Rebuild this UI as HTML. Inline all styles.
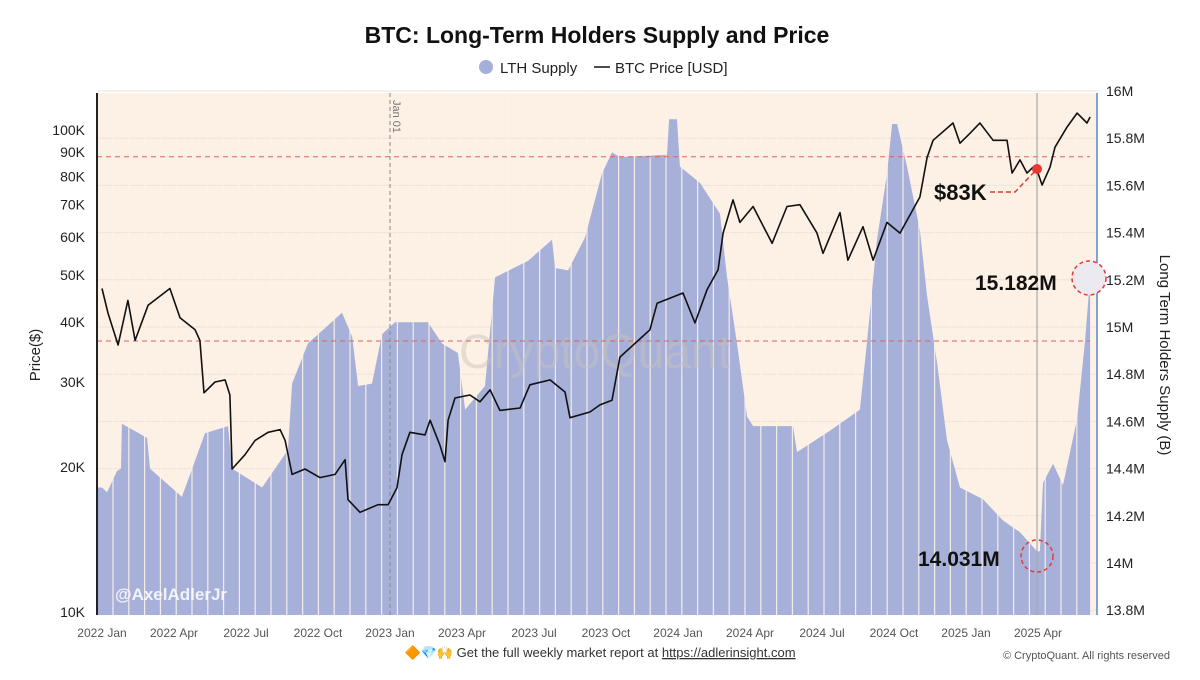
<!DOCTYPE html>
<html><head><meta charset="utf-8"><style>
body{margin:0;background:#fff;font-family:"Liberation Sans",sans-serif;}
svg text{font-family:"Liberation Sans",sans-serif;}
</style></head><body>
<svg id="c" width="1200" height="675" viewBox="0 0 1200 675" xmlns="http://www.w3.org/2000/svg">
<rect x="0" y="0" width="1200" height="675" fill="#fff"/>
<text x="597" y="43" text-anchor="middle" font-size="23" font-weight="bold" fill="#111">BTC: Long-Term Holders Supply and Price</text>
<g>
<circle cx="486" cy="67" r="7" fill="#a5afd9"/>
<text x="500" y="73" font-size="15" fill="#222">LTH Supply</text>
<line x1="594" y1="67" x2="610" y2="67" stroke="#111" stroke-width="1.5"/>
<text x="615" y="73" font-size="15" fill="#222">BTC Price [USD]</text>
</g>
<rect x="97" y="93" width="1000" height="522" fill="#fdf0e4"/>
<g id="grid"></g>
<g id="area"></g>
<g id="sep"></g>
<text x="595" y="368" text-anchor="middle" font-size="48" fill="#c9c3bf" opacity="0.45">CryptoQuant</text>
<g id="refs"></g>
<g id="price"></g>
<g id="axes"></g>
<text x="115" y="600" font-size="17" font-weight="bold" fill="#fff" opacity="0.85">@AxelAdlerJr</text>
<g id="ann"></g>
<text x="40" y="355" transform="rotate(-90 40 355)" text-anchor="middle" font-size="15" fill="#222">Price($)</text>
<text x="1160" y="355" transform="rotate(90 1160 355)" text-anchor="middle" font-size="15" fill="#222">Long Term Holders Supply (B)</text>
<text x="600" y="657" text-anchor="middle" font-size="13" fill="#333">🔶💎🙌 Get the full weekly market report at <tspan text-decoration="underline">https://adlerinsight.com</tspan></text>
<text x="1170" y="659" text-anchor="end" font-size="11" fill="#555">© CryptoQuant. All rights reserved</text>
</svg>
<script>
const supplyMonths=[-0.21,0,0.21,0.63,0.79,0.83,1.88,2.0,3.33,4.29,5.25,5.42,6.67,7.75,7.92,8.58,10.0,10.42,10.67,11.25,11.67,12.21,13.58,14.17,14.83,15.13,15.96,16.38,17.75,18.75,18.88,19.42,20.13,20.83,21.25,21.58,23.54,23.63,23.96,24.08,24.92,25.75,26.04,26.46,26.88,27.13,28.79,28.96,30.33,31.58,31.88,32.29,32.71,32.92,33.13,33.54,34.08,34.38,34.79,35.21,35.75,36.71,37.54,38.25,38.96,39.08,39.21,39.63,40.04,40.63,40.96,41.17];
const supplyValues=[14.32,14.32,14.30,14.39,14.40,14.59,14.53,14.40,14.28,14.55,14.58,14.40,14.32,14.48,14.76,14.93,15.06,14.96,14.75,14.76,14.97,15.02,15.02,14.93,14.89,14.65,14.75,15.21,15.28,15.37,15.25,15.24,15.38,15.65,15.74,15.72,15.73,15.88,15.88,15.68,15.61,15.48,15.21,14.93,14.62,14.58,14.58,14.47,14.56,14.65,14.94,15.37,15.65,15.86,15.86,15.68,15.41,15.13,14.85,14.52,14.32,14.27,14.18,14.13,14.05,14.05,14.34,14.42,14.33,14.61,14.94,15.21];
const priceMonths=[0,0.25,0.67,1.08,1.38,1.92,2.83,3.25,3.88,4.08,4.25,4.71,5.13,5.33,5.42,5.96,6.38,6.92,7.42,7.63,7.92,8.46,9.08,9.71,10.13,10.25,10.75,11.5,11.92,12.29,12.5,12.83,13.46,13.67,14.08,14.29,14.42,14.71,15.33,15.75,16.17,16.58,17.42,17.83,18.67,19.29,19.5,20.33,20.75,21.25,21.58,22.83,23.13,24.21,24.71,25.21,25.67,25.88,26.29,26.58,27.13,27.92,28.54,29.08,29.79,30.04,30.75,31.08,31.71,32.13,32.71,33.25,34.08,34.38,34.63,35.46,35.75,36.17,36.58,37.13,37.71,37.92,38.25,38.54,38.79,38.96,39.17,39.5,39.71,40.21,40.63,41.04,41.17];
const priceValues=[46.9,41.7,35.8,44.3,36.6,43.3,46.9,40.8,38.5,36.6,28.5,30.0,30.3,28.2,19.8,21.2,22.7,23.6,23.9,22.7,19.3,19.8,19.0,19.3,20.7,17.1,16.1,16.7,16.7,18.1,21.2,23.6,23.3,25.0,22.2,20.5,25.0,27.8,28.2,27.3,28.9,26.2,26.5,29.6,30.3,28.6,25.3,26.0,26.9,27.5,33.8,38.5,43.7,45.9,39.8,46.6,51.3,61.1,71.6,64.3,69.4,58.2,69.4,70.0,61.1,55.5,67.4,53.7,63.0,53.7,64.3,61.1,72.6,87.7,95.2,103.4,93.9,98.5,103.4,95.2,95.2,81.4,86.7,81.4,83.7,82.5,76.9,83.7,92.1,101.4,108.4,103.4,106.4];
const xTickLabels=["2022 Jan","2022 Apr","2022 Jul","2022 Oct","2023 Jan","2023 Apr","2023 Jul","2023 Oct","2024 Jan","2024 Apr","2024 Jul","2024 Oct","2025 Jan","2025 Apr"];
const priceTicks=[10,20,30,40,50,60,70,80,90,100];
const supplyTicks=[13.8,14,14.2,14.4,14.6,14.8,15,15.2,15.4,15.6,15.8,16];
const refPrices=[88,36.5];
const NS="http://www.w3.org/2000/svg";
const X=m=>102+24*m;
const YP=p=>612-482*Math.log10(p/10);
const YS=v=>563-(v-14)*236;
function mk(tag,attrs,parent){const e=document.createElementNS(NS,tag);for(const k in attrs)e.setAttribute(k,attrs[k]);document.getElementById(parent).appendChild(e);return e;}
// grid
supplyTicks.forEach(v=>{const g=mk('line',{x1:97,x2:1097,y1:YS(v),y2:YS(v),stroke:'#efe2d6','stroke-width':1},'grid');

});
// area
let d='M'+X(supplyMonths[0])+',615';
supplyMonths.forEach((m,i)=>{d+=' L'+X(m).toFixed(1)+','+YS(supplyValues[i]).toFixed(1);});
d+=' L'+X(supplyMonths[supplyMonths.length-1])+',615 Z';
const a=mk('path',{d:d,fill:'#a7b0d8'},'area');


for(let x=113;x<1092;x+=15.8){const s=mk('line',{x1:x.toFixed(1),x2:x.toFixed(1),y1:93,y2:615,stroke:'#fdf3ea','stroke-width':1.2,opacity:0.9},'sep');

}
// refs
refPrices.forEach(p=>{const r=mk('line',{x1:97,x2:1090,y1:YP(p),y2:YP(p),stroke:'#d9645c','stroke-width':1,'stroke-dasharray':'5,4'},'refs');

});
const jl=mk('line',{x1:X(12),x2:X(12),y1:93,y2:615,stroke:'#888','stroke-width':1,'stroke-dasharray':'4,3'},'refs');


const jt=mk('text',{x:X(12)+3,y:100,'font-size':11,fill:'#777',transform:'rotate(90 '+(X(12)+3)+' 100)'},'refs');jt.textContent='Jan 01';


const gl=mk('line',{x1:X(38.96),x2:X(38.96),y1:93,y2:615,stroke:'#aaa','stroke-width':1.2},'refs');


// price
let pd='';priceMonths.forEach((m,i)=>{pd+=(i?' L':'M')+X(m).toFixed(1)+','+YP(priceValues[i]).toFixed(1);});
const pl=mk('path',{d:pd,fill:'none',stroke:'#111','stroke-width':1.6,'stroke-linejoin':'round'},'price');


// axes
const la=mk('line',{x1:97,x2:97,y1:93,y2:615,stroke:'#222','stroke-width':2},'axes');


const ra=mk('line',{x1:1097,x2:1097,y1:93,y2:615,stroke:'#5a82d8','stroke-width':1.5},'axes');


priceTicks.forEach(p=>{const t=mk('text',{x:85,y:YP(p)+5,'text-anchor':'end','font-size':14,fill:'#222'},'axes');t.textContent=p+'K';

});
supplyTicks.forEach(v=>{const t=mk('text',{x:1106,y:YS(v)+5,'font-size':14,fill:'#222'},'axes');t.textContent=(Math.round(v*10)/10)+'M';

});
xTickLabels.forEach((l,i)=>{const t=mk('text',{x:X(i*3),y:637,'text-anchor':'middle','font-size':12,fill:'#555'},'axes');t.textContent=l;

});
// annotations
const dx=X(38.96),dy=YP(83);
const al=mk('path',{d:'M990,'+(dy+23)+' L1015,'+(dy+23)+' L'+dx+','+dy,fill:'none',stroke:'#e53935','stroke-width':1.5,'stroke-dasharray':'5,3'},'ann');


const dot=mk('circle',{cx:dx,cy:dy,r:5,fill:'#e53935'},'ann');


const t1=mk('text',{x:934,y:dy+31,'font-size':22,'font-weight':'bold',fill:'#111'},'ann');t1.textContent='$83K';


const c1=mk('circle',{cx:1089,cy:278,r:17,fill:'#eceaf0',stroke:'#e53935','stroke-width':1.5,'stroke-dasharray':'4,3'},'ann');


const t2=mk('text',{x:975,y:290,'font-size':21,'font-weight':'bold',fill:'#111'},'ann');t2.textContent='15.182M';


const c2=mk('circle',{cx:dx,cy:556,r:16,fill:'none',stroke:'#e53935','stroke-width':1.5,'stroke-dasharray':'4,3'},'ann');


const t3=mk('text',{x:918,y:566,'font-size':21,'font-weight':'bold',fill:'#111'},'ann');t3.textContent='14.031M';


</script>
</body></html>
